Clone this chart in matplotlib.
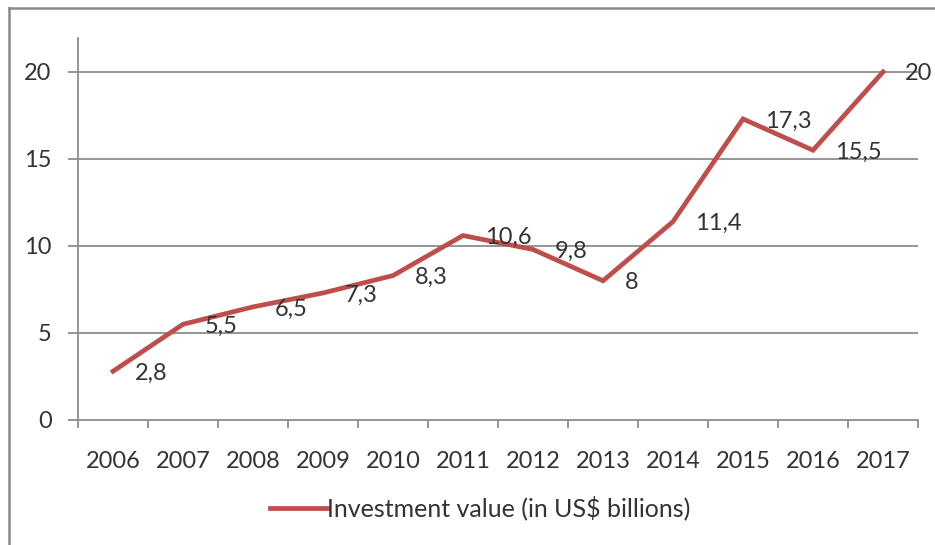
import matplotlib
matplotlib.use("Agg")
import matplotlib.pyplot as plt
from matplotlib.lines import Line2D
from matplotlib.ticker import FixedLocator

plt.rcParams['font.family'] = ['Lato', 'DejaVu Sans']

years = ["2006", "2007", "2008", "2009", "2010", "2011",
         "2012", "2013", "2014", "2015", "2016", "2017"]
values = [2.8, 5.5, 6.5, 7.3, 8.3, 10.6, 9.8, 8, 11.4, 17.3, 15.5, 20]
series_name = "Investment value (in US$ billions)"
y_ticks = [0, 5, 10, 15, 20]

W, H = 935, 545
fig = plt.figure(figsize=(W / 100, H / 100), dpi=100)
fig.patch.set_facecolor('white')

# outer chart frame (left and top edges visible)
frame_color = '#8a8a8a'
fig.add_artist(Line2D([9 / W, 9 / W], [0, 1 - 8 / H], color=frame_color, lw=1.8,
                      transform=fig.transFigure))
fig.add_artist(Line2D([9 / W, 1], [1 - 8 / H, 1 - 8 / H], color=frame_color, lw=1.8,
                      transform=fig.transFigure))

left, right = 78 / W, 918 / W
bottom, top = 1 - 420 / H, 1 - 38 / H
ax = fig.add_axes([left, bottom, right - left, top - bottom])

line_color = '#BF4E4B'
text_color = '#333333'
grid_color = '#8c8c8c'

x = list(range(len(years)))
ax.plot(x, values, color=line_color, lw=3.4, solid_joinstyle='miter',
        label=series_name, zorder=3)

for xi, v in zip(x, values):
    label = f"{v:g}".replace('.', ',')
    ax.annotate(label, (xi, v), xytext=(22, -2), textcoords='offset pixels',
                ha='left', va='center', fontsize=17, color=text_color, zorder=4)

ax.set_xlim(-0.5, len(years) - 0.5)
ax.set_ylim(0, 21.95)

ax.set_yticks(y_ticks)
ax.set_yticklabels([str(t) for t in y_ticks])
for t in y_ticks[1:]:
    ax.axhline(t, color=grid_color, lw=1.3, zorder=1)

ax.set_xticks(x)
ax.set_xticklabels(years)
ax.xaxis.set_minor_locator(FixedLocator([i - 0.5 for i in range(len(years) + 1)]))
ax.tick_params(axis='x', which='major', length=0, pad=22, labelsize=17,
               labelcolor=text_color)
ax.tick_params(axis='x', which='minor', length=6, width=1.3, color=grid_color,
               direction='out')
ax.tick_params(axis='y', length=7, width=1.3, color=grid_color, pad=12,
               labelsize=17, labelcolor=text_color)

for side in ('top', 'right'):
    ax.spines[side].set_visible(False)
for side in ('left', 'bottom'):
    ax.spines[side].set_color(grid_color)
    ax.spines[side].set_linewidth(1.3)

leg = fig.legend(handles=[Line2D([0], [0], color=line_color, lw=3.4)],
                 labels=[series_name], loc='center',
                 bbox_to_anchor=(480 / W, 1 - 508 / H), frameon=False,
                 fontsize=18, handlelength=2.3, handletextpad=0.0)
for t in leg.get_texts():
    t.set_color(text_color)

fig.savefig('out.png', dpi=100, facecolor='white')
